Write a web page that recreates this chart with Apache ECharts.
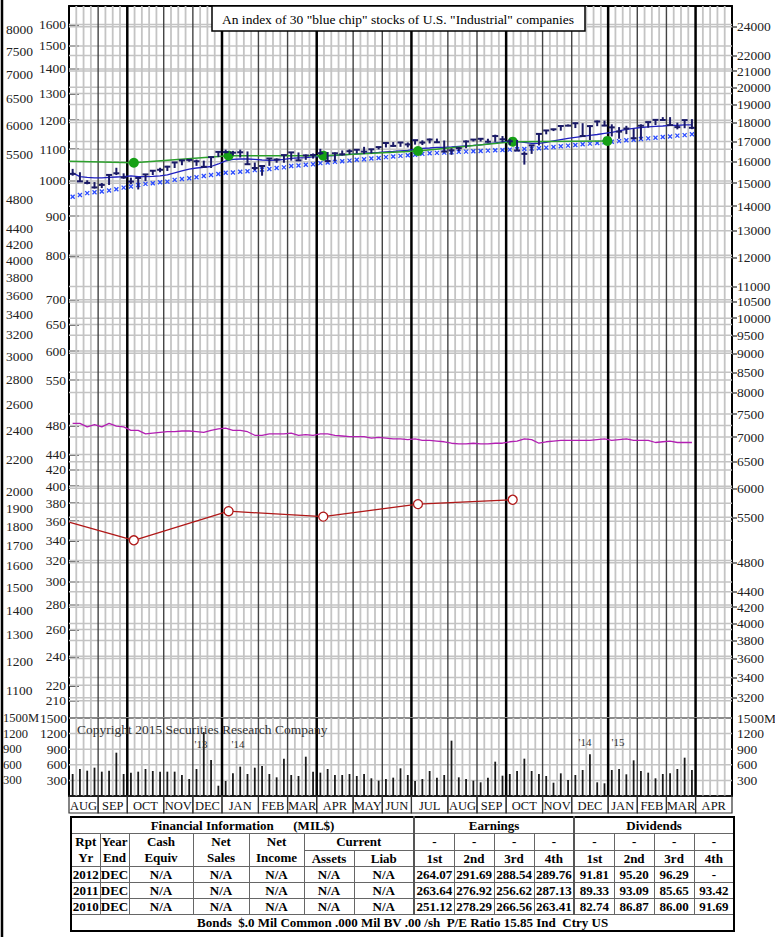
<!DOCTYPE html>
<html>
<head>
<meta charset="utf-8">
<title>Dow Jones Industrial Average</title>
<script src="https://cdn.jsdelivr.net/npm/echarts@6.0.0/dist/echarts.min.js"></script>
<style>
  html, body { margin: 0; padding: 0; background: #fff; }
  #page { position: relative; width: 775px; height: 937px; overflow: hidden; }
  #chart { position: absolute; left: 0; top: 0; width: 775px; height: 937px; }
  #fin { position: absolute; left: 70px; top: 816px; width: 663px; border-collapse: collapse; table-layout: fixed;
         font: bold 13px 'Liberation Serif', 'Times New Roman', serif; color: #000; border: 2px solid #000; }
  #fin td { border: 1px solid #666; padding: 0; height: 15px; line-height: 15px; text-align: center;
            white-space: nowrap; overflow: hidden; }
  #fin td.two { line-height: 16px; }
  #fin td.sep { border-left: 2px solid #555; }
</style>
</head>
<body>
<div id="page">
  <div id="chart"></div>
  <table id="fin"></table>
</div>
<script>
// months along the bottom and how many weekly bars each one holds
const months = ['AUG','SEP','OCT','NOV','DEC','JAN','FEB','MAR','APR','MAY','JUN','JUL',
                'AUG','SEP','OCT','NOV','DEC','JAN','FEB','MAR','APR']
const monthWeeks = [4,4,5,4,4,5,4,4,5,4,4,5,4,4,5,4,5,4,4,4,5]

// weekly index bars (right scale)
const high = [15658,15500,15130,15050,15010,15380,15710,15450,15250,15250,
  15400,15600,15710,15800,15970,16070,16120,16100,16050,16230,
  16500,16590,16530,16590,16500,15960,15800,16160,16160,16330,
  16460,16450,16350,16400,16630,16470,16450,16550,16600,16600,
  16730,16620,16730,16930,16970,16960,16950,17080,17060,17150,
  17150,17050,16660,16720,17050,17110,17150,17140,17350,17280,
  17120,17080,16500,16810,17400,17580,17660,17830,17890,17990,
  17960,17850,18100,18100,17900,17750,17820,17670,17900,18030,
  18140,18290,18290,17990,18130,18180]
const low = [15340,15070,14950,14760,14780,14920,15370,15200,14950,14720,
  15100,15370,15500,15560,15700,15830,16000,15800,15700,15700,
  16220,16400,16300,16200,15870,15600,15340,15800,15950,15950,
  16050,16040,16090,16150,16320,16020,16020,16300,16350,16400,
  16370,16400,16600,16700,16730,16730,16700,16840,16820,16900,
  16920,16490,16330,16510,16660,17000,17000,16940,16980,16950,
  16820,16540,15860,16380,16800,17370,17540,17560,17800,17700,
  17280,17070,17800,17800,17260,17140,17380,17140,17100,17720,
  17860,18080,17840,17630,17690,17640]
const close = [15425,15081,15010,14810,14922,15376,15452,15258,15073,15237,
  15400,15570,15615,15762,15962,16065,16086,16020,15755,16221,
  16479,16469,16437,16458,15879,15699,15794,16154,16103,16321,
  16453,16065,16303,16323,16413,16027,16409,16361,16512,16583,
  16491,16606,16717,16924,16776,16948,16851,17068,16944,17100,
  16961,16493,16554,16663,17001,17098,17138,16988,17280,17113,
  17009,16544,16380,16805,17391,17573,17634,17810,17828,17958,
  17280,17804,18053,17833,17737,17512,17673,17165,17825,18019,
  18140,18133,17856,17749,18128,17713]

// moving averages (right scale)
const maShort = [15470,15300,15260,15240,15240,15260,15280,15300,15330,15300,
  15300,15310,15330,15380,15470,15560,15650,15700,15730,15770,
  15890,16040,16110,16130,16130,16110,16080,16060,16080,16110,
  16160,16180,16200,16230,16250,16280,16300,16330,16350,16380,
  16400,16430,16450,16480,16500,16530,16550,16600,16650,16670,
  16700,16700,16720,16750,16780,16800,16830,16880,16930,16980,
  17000,17000,16950,16900,16900,16950,17030,17100,17160,17210,
  17260,17310,17360,17420,17470,17550,17630,17680,17730,17760,
  17790,17810,17840,17840,17870,17870]
const maLong = [14400,14480,14560,14600,14630,14670,14730,14800,14850,14920,
  14970,15000,15040,15070,15150,15190,15220,15270,15330,15370,
  15420,15480,15490,15520,15550,15600,15630,15650,15700,15730,
  15790,15820,15850,15880,15930,15960,15990,16020,16050,16090,
  16120,16150,16180,16220,16250,16280,16310,16340,16380,16410,
  16430,16440,16460,16480,16490,16510,16520,16540,16560,16570,
  16590,16610,16620,16640,16660,16690,16720,16760,16790,16820,
  16860,16890,16920,16960,16990,17020,17060,17090,17130,17160,
  17190,17230,17260,17300,17330,17370]

// relative strength line (left scale)
const relStrength = [483,483,478,481,478,483,479,478,473,473,
  468,469,470,471,471,472,472,471,470,473,
  475,476,473,473,471,466,466,468,468,468,
  469,466,467,466,468,468,466,465,464,464,
  464,462,463,462,461,461,460,461,459,459,
  458,457,455,454,454,455,454,454,455,455,
  457,458,461,460,455,457,458,459,459,459,
  459,459,460,461,459,460,461,459,459,459,
  456,457,458,456,456,456]

// quarterly lines: green (right scale), red earnings (left scale)
const greenWeeks = [0, 8.9, 21.9, 34.9, 47.9, 60.9, 73.9]
const greenVals = [16020, 15950, 16290, 16290, 16520, 16990, 17030]
const redWeeks = [0, 8.9, 21.9, 34.9, 47.9, 60.9]
const redVals = [359, 340, 371, 365, 379, 384]

// weekly volume (millions)
const volume = [423,519,487,545,468,487,833,423,449,468,
  519,481,468,468,468,404,327,519,1230,692,
  198,288,436,564,423,545,577,423,359,718,
  404,385,756,468,449,519,404,404,423,385,
  423,340,295,327,353,532,404,288,327,481,
  353,404,1064,359,327,295,263,353,660,391,
  423,481,718,481,423,385,256,436,308,404,
  500,802,263,244,500,519,417,686,481,449,
  340,423,436,519,737,500]

// tick labels
const leftTicks = [1600,1500,1400,1300,1200,1100,1000,900,800,700,650,600,550,480,440,420,400,380,360,340,320,300,280,260,240,220,210]
const rightTicks = [24000,22000,21000,20000,19000,18000,17000,16000,15000,14000,13000,12000,11000,10500,10000,9500,9000,8500,8000,7500,7000,6500,6000,5500,4800,4400,4200,4000,3800,3600,3400,3200]
const outerTicks = [8000,7500,7000,6500,6000,5500,4800,4400,4200,4000,3800,3600,3400,3200,3000,2800,2600,2400,2200,2000,1900,1800,1700,1600,1500,1400,1300,1200,1100]
const volTicks = [300,600,900,1200,1500]

// financial table
const rptYears = ['2012','2011','2010']
const yearEnd = ['DEC','DEC','DEC']
const cashEquiv = ['N/A','N/A','N/A']
const netSales = ['N/A','N/A','N/A']
const netIncome = ['N/A','N/A','N/A']
const curAssets = ['N/A','N/A','N/A']
const curLiab = ['N/A','N/A','N/A']
const earnings = [['264.07','291.69','288.54','289.76'],['263.64','276.92','256.62','287.13'],['251.12','278.29','266.56','263.41']]
const dividends = [['91.81','95.20','96.29','-'],['89.33','93.09','85.65','93.42'],['82.74','86.87','86.00','91.69']]
const footNote = 'Bonds&nbsp; $.0 Mil&nbsp;Common .000 Mil&nbsp;BV .00 /sh&nbsp; P/E Ratio 15.85 Ind&nbsp; Ctry US'

const FONT = "'Liberation Serif', 'Times New Roman', serif"
const innerMin = 199.4
const innerMax = 1691
const rightK = 15.1
const outerK = 5.08

function buildTable () {
  const colWidths = [29, 29, 64, 56, 55, 50, 60, 40, 40, 40, 40, 40, 40, 40, 40]
  const quarters = ['1st', '2nd', '3rd', '4th']
  const heads = ['Rpt<br>Yr', 'Year<br>End', 'Cash<br>Equiv', 'Net<br>Sales', 'Net<br>Income']
  const q = (arr) => arr.map((t, i) => '<td' + (i === 0 ? ' class="sep"' : '') + '>' + t + '</td>').join('')
  let h = '<colgroup>' + colWidths.map(w => '<col style="width:' + w + 'px">').join('') + '</colgroup>'
  h += '<tr><td colspan="7">Financial Information&nbsp;&nbsp;&nbsp;&nbsp;&nbsp;&nbsp;(MIL$)</td>' +
       '<td colspan="4" class="sep">Earnings</td><td colspan="4" class="sep">Dividends</td></tr>'
  h += '<tr>' + heads.map(t => '<td rowspan="2" class="two">' + t + '</td>').join('') +
       '<td colspan="2">Current</td>' + q(['-', '-', '-', '-']) + q(['-', '-', '-', '-']) + '</tr>'
  h += '<tr><td>Assets</td><td>Liab</td>' + q(quarters) + q(quarters) + '</tr>'
  for (let r = 0; r < rptYears.length; r++) {
    h += '<tr><td>' + rptYears[r] + '</td><td>' + yearEnd[r] + '</td><td>' + cashEquiv[r] + '</td><td>' +
         netSales[r] + '</td><td>' + netIncome[r] + '</td><td>' + curAssets[r] + '</td><td>' + curLiab[r] + '</td>' +
         q(earnings[r]) + q(dividends[r]) + '</tr>'
  }
  h += '<tr><td colspan="15">' + footNote + '</td></tr>'
  document.getElementById('fin').innerHTML = h
}
buildTable()

// week grid: light weekly lines, darker month lines, black quarter lines
const monthStart = []
let acc = 0
monthWeeks.forEach(n => { monthStart.push(acc); acc += n })
const totalWeeks = acc
const quarterMonths = ['JAN', 'APR', 'JUL', 'OCT']
const weekLinesPrice = []
const weekLinesVol = []
for (let w = 1; w < totalWeeks; w++) {
  const mi = monthStart.indexOf(w)
  let kind = 0
  if (mi >= 0) kind = quarterMonths.indexOf(months[mi]) >= 0 ? 2 : 1
  weekLinesPrice.push([w, 1000, kind])
  weekLinesVol.push([w, 100, kind])
}
const vStyle = [
  { stroke: '#c4c4c4', lineWidth: 1.8 },
  { stroke: '#444', lineWidth: 1.4 },
  { stroke: '#000', lineWidth: 2.5 }
]

function vLineItem (params, api) {
  const cs = params.coordSys
  const x = api.coord([api.value(0), api.value(1)])[0]
  const st = vStyle[api.value(2)]
  return { type: 'line', shape: { x1: x, y1: cs.y, x2: x, y2: cs.y + cs.height }, style: { stroke: st.stroke, lineWidth: st.lineWidth } }
}
function hLineItem (params, api) {
  const cs = params.coordSys
  const y = api.coord([api.value(0), api.value(1)])[1]
  const top = api.value(2) === 1
  return { type: 'line', shape: { x1: cs.x, y1: y, x2: cs.x + cs.width, y2: y },
    style: { stroke: top ? '#8a8a8a' : '#c4c4c4', lineWidth: top ? 2 : 1.5 } }
}

const labelBase = { fontSize: 13.5, fontFamily: FONT, color: '#222' }
const fmt = v => String(Math.round(v))
const fmtVol = v => (Math.round(v) === 1500 ? '1500M' : String(Math.round(v)))
const hiddenX = (gi, pos, line) => ({
  gridIndex: gi, type: 'value', min: 0, max: totalWeeks, position: pos,
  axisLine: { show: line, onZero: false, lineStyle: { color: '#000', width: 2 } },
  axisTick: { show: false }, axisLabel: { show: false }, splitLine: { show: false }
})
const txt = (x, y, text, size, fill, align) => ({
  type: 'text', z: 101, x: x, y: y,
  style: { text: text, align: align || 'center', verticalAlign: 'middle', fontSize: size, fontFamily: FONT, fill: fill }
})

const chart = echarts.init(document.getElementById('chart'), null, { renderer: 'svg' })
chart.setOption({
  animation: false,
  backgroundColor: '#fff',
  grid: [
    { left: 69, top: 6, width: 663, height: 712, containLabel: false, outerBoundsMode: 'none' },
    { left: 69, top: 718, width: 663, height: 78, containLabel: false, outerBoundsMode: 'none' },
    { left: 69, top: 796, width: 663, height: 17, containLabel: false, outerBoundsMode: 'none' }
  ],
  xAxis: [hiddenX(0, 'top', true), hiddenX(1, 'bottom', true), hiddenX(2, 'bottom', false)],
  yAxis: [
    {
      gridIndex: 0, type: 'log', min: innerMin, max: innerMax, position: 'left',
      axisLine: { show: true, lineStyle: { color: '#000', width: 2 } },
      axisTick: { show: true, inside: true, length: 10, customValues: leftTicks, lineStyle: { color: '#333', width: 1.5 } },
      axisLabel: Object.assign({ customValues: leftTicks, formatter: fmt, margin: 3 }, labelBase),
      splitLine: { show: false }
    },
    {
      gridIndex: 0, type: 'log', min: innerMin * rightK, max: innerMax * rightK, position: 'right',
      axisLine: { show: true, lineStyle: { color: '#000', width: 2 } },
      axisTick: { show: true, length: 5, customValues: rightTicks, lineStyle: { color: '#555', width: 1.5 } },
      axisLabel: Object.assign({ customValues: rightTicks, formatter: fmt, margin: 5 }, labelBase),
      splitLine: { show: false }
    },
    {
      gridIndex: 0, type: 'log', min: innerMin * outerK, max: innerMax * outerK, position: 'left',
      axisLine: { show: false }, axisTick: { show: false },
      axisLabel: Object.assign({ customValues: outerTicks, formatter: fmt, margin: 63, align: 'left' }, labelBase),
      splitLine: { show: false }
    },
    {
      gridIndex: 1, type: 'value', min: 0, max: 1500, position: 'left',
      axisLine: { show: true, lineStyle: { color: '#000', width: 2 } },
      axisTick: { show: false },
      axisLabel: Object.assign({ customValues: volTicks, formatter: fmt, margin: 2 }, labelBase),
      splitLine: { show: false }
    },
    {
      gridIndex: 1, type: 'value', min: 0, max: 1500, position: 'left',
      axisLine: { show: false }, axisTick: { show: false },
      axisLabel: Object.assign({ customValues: volTicks, formatter: fmtVol, margin: 66, align: 'left' }, labelBase, { fontSize: 12.5 }),
      splitLine: { show: false }
    },
    {
      gridIndex: 1, type: 'value', min: 0, max: 1500, position: 'right',
      axisLine: { show: true, lineStyle: { color: '#000', width: 2 } },
      axisTick: { show: false },
      axisLabel: Object.assign({ customValues: volTicks, formatter: fmtVol, margin: 5 }, labelBase),
      splitLine: { show: false }
    },
    { gridIndex: 2, type: 'value', min: 0, max: 1, show: false }
  ],
  graphic: [
    { type: 'line', shape: { x1: 2, y1: 0, x2: 2, y2: 937 }, style: { stroke: '#000', lineWidth: 2.5 } },
    { type: 'rect', z: 100, shape: { x: 212, y: 6, width: 373, height: 25 }, style: { fill: '#fff', stroke: '#000', lineWidth: 1.5 } },
    txt(398, 19, 'An index of 30 "blue chip" stocks of U.S. "Industrial" companies', 13.5, '#000'),
    txt(77, 729, 'Copyright 2015 Securities Research Company', 13.5, '#333', 'left'),
    txt(201, 744, "'13", 11, '#333'),
    txt(238, 744, "'14", 11, '#333'),
    txt(585, 742, "'14", 11, '#333'),
    txt(618, 742, "'15", 11, '#333')
  ],
  series: [
    { type: 'custom', xAxisIndex: 0, yAxisIndex: 0, z: 1, silent: true, renderItem: hLineItem,
      data: leftTicks.map(v => [0, v, 0]) },
    { type: 'custom', xAxisIndex: 0, yAxisIndex: 1, z: 1, silent: true, renderItem: hLineItem,
      data: rightTicks.map(v => [0, v, 0]) },
    { type: 'custom', xAxisIndex: 0, yAxisIndex: 0, z: 1, silent: true, renderItem: vLineItem, data: weekLinesPrice },
    { type: 'custom', xAxisIndex: 1, yAxisIndex: 3, z: 1, silent: true, renderItem: hLineItem,
      data: volTicks.map(v => [0, v, v === 1500 ? 1 : 0]) },
    { type: 'custom', xAxisIndex: 1, yAxisIndex: 3, z: 1, silent: true, renderItem: vLineItem, data: weekLinesVol },
    {
      name: 'Volume', type: 'bar', xAxisIndex: 1, yAxisIndex: 3, z: 3, barWidth: 1.8,
      itemStyle: { color: '#1a1a1a' },
      data: volume.map((v, i) => [i + 0.5, v])
    },
    {
      name: 'Long average', type: 'custom', xAxisIndex: 0, yAxisIndex: 1, z: 3,
      data: maLong.map((v, i) => [i + 0.5, v]),
      renderItem: function (params, api) {
        const p = api.coord([api.value(0), api.value(1)])
        const s = 2
        const st = { stroke: '#2a4bff', lineWidth: 1.3 }
        return { type: 'group', children: [
          { type: 'line', shape: { x1: p[0] - s, y1: p[1] - s, x2: p[0] + s, y2: p[1] + s }, style: st },
          { type: 'line', shape: { x1: p[0] - s, y1: p[1] + s, x2: p[0] + s, y2: p[1] - s }, style: st }
        ] }
      }
    },
    {
      name: 'Short average', type: 'line', xAxisIndex: 0, yAxisIndex: 1, z: 4, symbol: 'none',
      lineStyle: { color: '#2020c0', width: 1.3 },
      data: maShort.map((v, i) => [i + 0.5, v])
    },
    {
      name: 'Green', type: 'line', xAxisIndex: 0, yAxisIndex: 1, z: 5, symbol: 'circle', symbolSize: 10, showAllSymbol: true,
      lineStyle: { color: '#2ca02c', width: 1.5 }, itemStyle: { color: '#16a016' },
      data: greenWeeks.map((w, i) => (i === 0 ? { value: [w, greenVals[i]], symbol: 'none' } : [w, greenVals[i]]))
    },
    {
      name: 'Price', type: 'custom', xAxisIndex: 0, yAxisIndex: 1, z: 6,
      data: high.map((h, i) => [i + 0.5, h, low[i], close[i]]),
      renderItem: function (params, api) {
        const x = api.coord([api.value(0), api.value(1)])[0]
        const yh = api.coord([api.value(0), api.value(1)])[1]
        const yl = api.coord([api.value(0), api.value(2)])[1]
        const yc = api.coord([api.value(0), api.value(3)])[1]
        const st = { stroke: '#1a1a66', lineWidth: 2 }
        return { type: 'group', children: [
          { type: 'line', shape: { x1: x, y1: yh, x2: x, y2: yl }, style: st },
          { type: 'line', shape: { x1: x - 3, y1: yc, x2: x + 3, y2: yc }, style: st }
        ] }
      }
    },
    {
      name: 'Relative strength', type: 'line', xAxisIndex: 0, yAxisIndex: 0, z: 4, symbol: 'none',
      lineStyle: { color: '#b21fb2', width: 1.3 },
      data: relStrength.map((v, i) => [i + 0.5, v])
    },
    {
      name: 'Earnings', type: 'line', xAxisIndex: 0, yAxisIndex: 0, z: 5, symbol: 'circle', symbolSize: 9, showAllSymbol: true,
      lineStyle: { color: '#b01818', width: 1.3 },
      itemStyle: { color: '#fff', borderColor: '#b01818', borderWidth: 1.3 },
      data: redWeeks.map((w, i) => (i === 0 ? { value: [w, redVals[i]], symbol: 'none' } : [w, redVals[i]]))
    },
    {
      name: 'Months', type: 'custom', xAxisIndex: 2, yAxisIndex: 6, z: 3, silent: true,
      data: months.map((m, i) => [monthStart[i], monthStart[i] + monthWeeks[i], i]),
      renderItem: function (params, api) {
        const cs = params.coordSys
        const x0 = api.coord([api.value(0), 0])[0]
        const x1 = api.coord([api.value(1), 0])[0]
        return { type: 'group', children: [
          { type: 'rect', shape: { x: x0, y: cs.y, width: x1 - x0, height: cs.height }, style: { fill: 'none', stroke: '#333', lineWidth: 1.2 } },
          { type: 'text', style: { text: months[api.value(2)], x: (x0 + x1) / 2, y: cs.y + cs.height / 2 + 1, align: 'center', verticalAlign: 'middle', fontSize: 12.5, fontFamily: FONT, fill: '#111' } }
        ] }
      }
    }
  ]
})
</script>
</body>
</html>
